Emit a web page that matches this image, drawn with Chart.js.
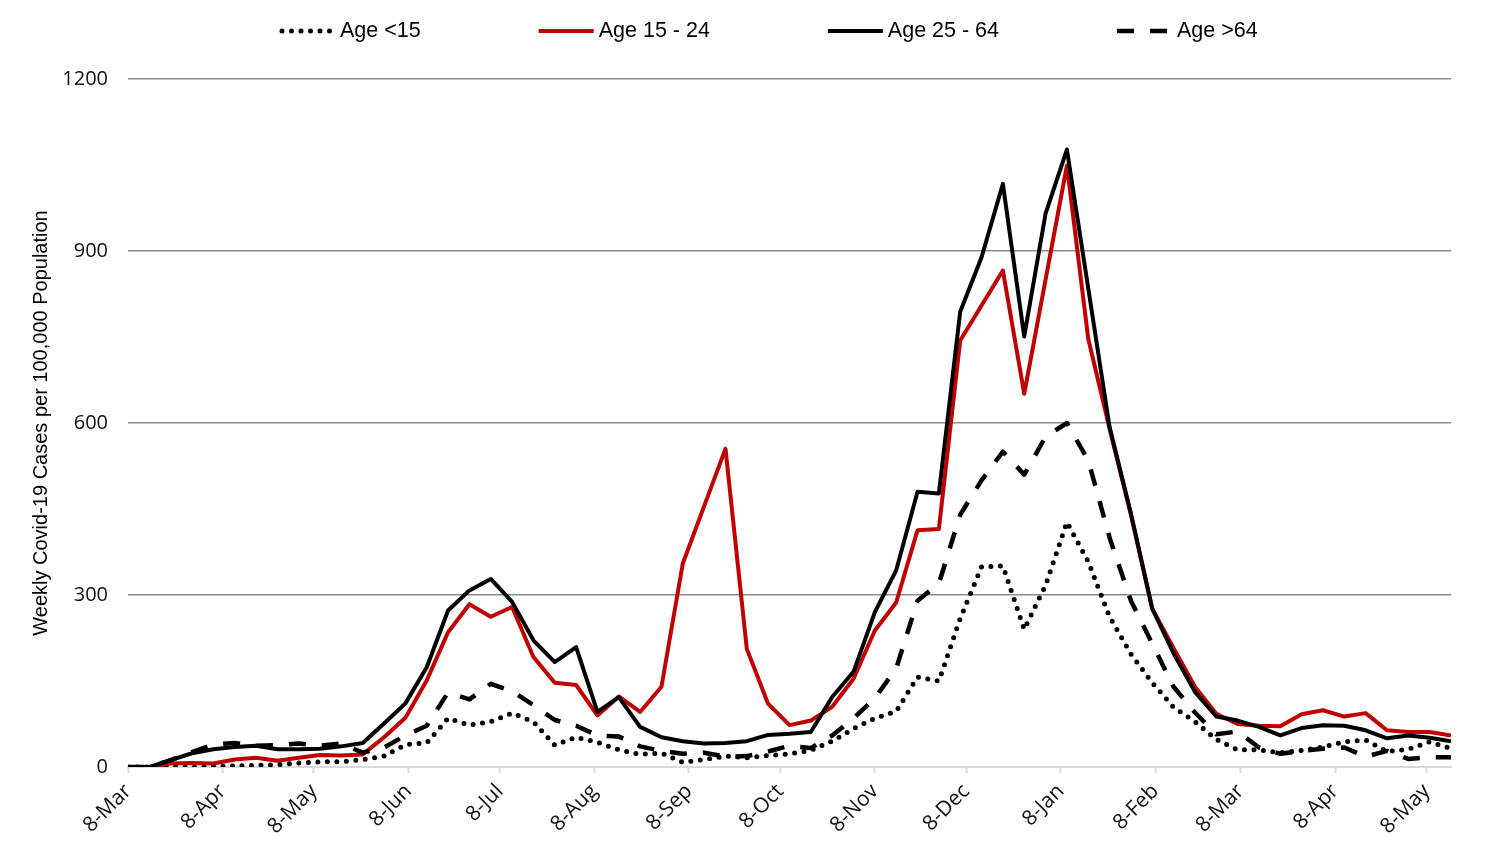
<!DOCTYPE html>
<html lang="en">
<head>
  <meta charset="UTF-8" />
  <title>Weekly Covid-19 Cases by Age</title>
  <script src="https://cdn.jsdelivr.net/npm/chart.js"></script>
  <style>
    html, body { margin: 0; padding: 0; background: #fff; }
    canvas { display: block; }
  </style>
</head>
<body>
  <canvas id="graficoEdad" width="1496" height="857"></canvas>

  <script>
    // weekly cases per 100,000, one value a week starting 8-Mar
    const under15 = [0, 0, 0, 0, 1, 2, 3, 4, 7, 9,
      9, 13, 19, 39, 42, 85, 73, 79, 94, 79,
      38, 52, 43, 30, 22, 24, 8, 13, 19, 16,
      20, 23, 29, 45, 67, 85, 97, 157, 150, 259,
      349, 351, 240, 317, 427, 358, 262, 197, 147, 104,
      79, 48, 30, 30, 25, 29, 35, 44, 47, 27,
      31, 44, 32];
    const age15to24 = [0, 0, 6, 7, 6, 13, 16, 11, 16, 21,
      20, 22, 52, 86, 151, 235, 284, 262, 279, 192,
      147, 143, 90, 123, 96, 140, 355, 455, 555, 206,
      110, 73, 81, 105, 154, 238, 287, 413, 415, 744,
      805, 866, 651, 850, 1049, 747, 590, 440, 276, 207,
      140, 93, 75, 72, 71, 92, 99, 88, 94, 64,
      61, 61, 55];
    const age25to64 = [0, 0, 12, 24, 31, 35, 37, 31, 31, 32,
      36, 42, 76, 111, 174, 273, 308, 328, 288, 221,
      183, 209, 96, 122, 70, 52, 45, 41, 42, 45,
      56, 58, 61, 122, 166, 270, 343, 480, 477, 794,
      889, 1017, 751, 965, 1077, 835, 593, 442, 276, 198,
      131, 88, 81, 70, 55, 68, 73, 72, 64, 50,
      55, 51, 45];
    const over64 = [0, 0, 12, 26, 39, 42, 37, 38, 41, 37,
      41, 25, 34, 55, 72, 130, 118, 145, 132, 108,
      82, 72, 55, 53, 36, 28, 23, 25, 18, 19,
      27, 37, 33, 55, 85, 120, 172, 290, 320, 440,
      500, 550, 510, 576, 600, 535, 400, 290, 215, 140,
      95, 57, 62, 34, 23, 28, 32, 34, 18, 28,
      14, 17, 17];

    const seriesNames = ['Age <15', 'Age 15 - 24', 'Age 25 - 64', 'Age >64'];

    // x axis is days since 8-Mar; ticks on the 8th of every month
    const tickDays = [0, 31, 61, 92, 122, 153, 184, 214, 245, 275, 306, 337, 365, 396, 426];
    const tickLabels = ['8-Mar', '8-Apr', '8-May', '8-Jun', '8-Jul', '8-Aug', '8-Sep', '8-Oct',
      '8-Nov', '8-Dec', '8-Jan', '8-Feb', '8-Mar', '8-Apr', '8-May'];
    const yTicks = [0, 300, 600, 900, 1200];

    const weekDays = under15.map((v, i) => i * 7);

    // legend drawn by hand: Chart.js uses one padding for both directions
    const topLegend = {
      id: 'topLegend',
      afterDraw(chart) {
        const ctx = chart.ctx;
        const y = 31;
        let x = 280;
        ctx.save();
        ctx.font = '21.5px "Liberation Sans", Arial, sans-serif';
        ctx.textBaseline = 'middle';
        chart.data.datasets.forEach(ds => {
          ctx.beginPath();
          ctx.strokeStyle = ds.borderColor;
          ctx.lineWidth = ds.borderWidth;
          ctx.lineCap = ds.borderCapStyle || 'butt';
          ctx.setLineDash(ds.borderDash || []);
          ctx.moveTo(x + (ds.borderCapStyle === 'round' ? 2 : 0), y);
          ctx.lineTo(x + 55, y);
          ctx.stroke();
          ctx.setLineDash([]);
          ctx.fillStyle = '#000';
          ctx.fillText(ds.label, x + 60, y);
          x += 60 + ctx.measureText(ds.label).width + 118;
        });
        ctx.restore();
      }
    };

    new Chart(document.getElementById('graficoEdad'), {
      type: 'line',
      data: {
        labels: weekDays,
        datasets: [
          { label: seriesNames[0], data: under15, borderColor: '#000', borderWidth: 5,
            borderDash: [0, 9.5], borderCapStyle: 'round', order: 4 },
          { label: seriesNames[1], data: age15to24, borderColor: '#c00000', borderWidth: 4, order: 3 },
          { label: seriesNames[2], data: age25to64, borderColor: '#000', borderWidth: 4, order: 2 },
          { label: seriesNames[3], data: over64, borderColor: '#000', borderWidth: 4.5,
            borderDash: [17, 16], order: 1 }
        ]
      },
      options: {
        responsive: false,
        animation: false,
        layout: { padding: { top: 79, left: 0, right: 45, bottom: 0 } },
        elements: {
          point: { radius: 0 },
          line: { tension: 0, borderJoinStyle: 'round', fill: false }
        },
        plugins: {
          legend: { display: false },
          tooltip: { enabled: false }
        },
        scales: {
          x: {
            type: 'linear',
            min: 0,
            max: 434,
            afterBuildTicks: s => { s.ticks = tickDays.map(v => ({ value: v })); },
            afterFit: s => { s.height = 90; },
            ticks: {
              autoSkip: false,
              maxRotation: 45,
              minRotation: 45,
              padding: 6,
              color: '#111',
              font: { family: '"Open Sans", sans-serif', size: 21 },
              callback: v => tickLabels[tickDays.indexOf(v)]
            },
            grid: { drawOnChartArea: false, tickLength: 6, tickColor: '#d9d9d9', tickWidth: 2 },
            border: { color: '#d9d9d9', width: 2 }
          },
          y: {
            min: 0,
            max: 1200,
            afterBuildTicks: s => { s.ticks = yTicks.map(v => ({ value: v })); },
            afterFit: s => { s.width = 128; },
            ticks: {
              padding: 20,
              color: '#111',
              font: { family: '"Open Sans", sans-serif', size: 20 },
              callback: v => String(v)
            },
            grid: {
              drawTicks: false,
              lineWidth: 1.5,
              color: c => c.tick.value === 0 ? 'rgba(0,0,0,0)' : '#8c8c8c'
            },
            border: { display: false },
            title: {
              display: true,
              text: 'Weekly Covid-19 Cases per 100,000 Population',
              color: '#000',
              font: { family: '"Liberation Sans", Arial, sans-serif', size: 20 },
              padding: { top: 29, bottom: 0 }
            }
          }
        }
      },
      plugins: [topLegend]
    });
  </script>
</body>
</html>
